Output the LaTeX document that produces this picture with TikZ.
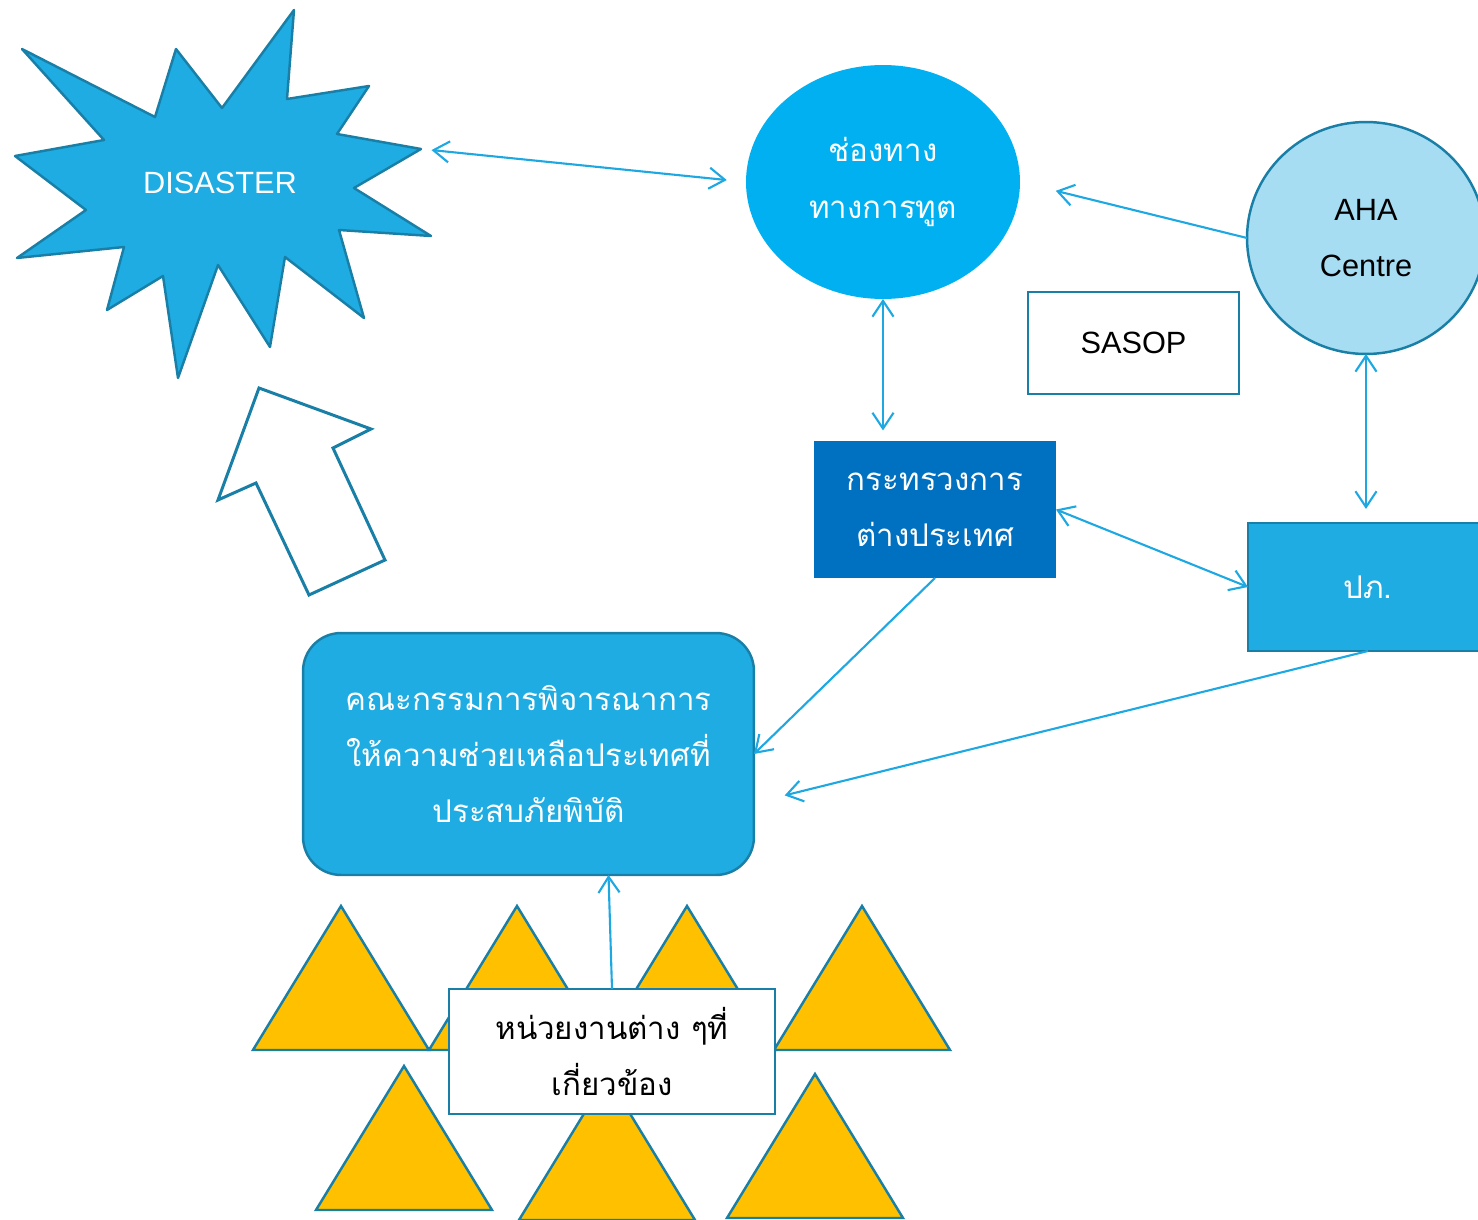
\documentclass[tikz,border=0pt]{standalone}
\usepackage{fontspec}
\setmainfont{Liberation Sans}
\newfontfamily\thaifont[Script=Thai]{Loma}
\usetikzlibrary{shapes.geometric,arrows.meta,calc}

\definecolor{skyfill}{RGB}{30,172,226}
\definecolor{edgeblue}{RGB}{26,127,166}
\definecolor{diplofill}{RGB}{0,176,240}
\definecolor{ahafill}{RGB}{166,221,243}
\definecolor{mfafill}{RGB}{0,112,192}
\definecolor{triyellow}{RGB}{255,192,0}
\definecolor{linkblue}{RGB}{30,168,226}

\tikzset{
  box/.style={draw=edgeblue, line width=1.4pt, inner sep=0pt, outer sep=0pt, align=center},
  thaitext/.style={font=\thaifont\fontsize{17.8}{32}\selectfont},
  latintext/.style={font=\fontsize{17.5}{32}\selectfont},
  link/.style={draw=linkblue, line width=1.2pt},
}

\begin{document}
\begin{tikzpicture}[x=0.02cm, y=-0.02cm, >={Straight Barb[length=9pt,width=12pt]}]
      \useasboundingbox (0,0) rectangle (1478,1220);
      % Draw shapes
      \draw[fill=skyfill, draw=edgeblue, line width=1.4pt, line join=round]
        (22,49) -- (155,117) -- (176,49) -- (222,108) -- (294,10) -- (287,99)
        -- (369,86) -- (337,134) -- (421,149) -- (354,188) -- (431,236)
        -- (339,230) -- (364,318) -- (285,257) -- (270,347) -- (218,265)
        -- (178,378) -- (163,276) -- (107,310) -- (124,247) -- (17,258)
        -- (86,210) -- (15,156) -- (104,140) -- cycle;
      \coordinate (startip) at (421,149);
      \draw[draw=edgeblue, line width=1.7pt, fill=white]
        (259,388) -- (371,429) -- (333,448) -- (385,560) -- (309,595)
        -- (256,483) -- (218,500) -- cycle;
      \foreach \tx/\ty in {341/906, 517/906, 687/906, 862/906, 404/1066, 607/1076, 815/1074}
        \draw[fill=triyellow, draw=edgeblue, line width=1.4pt] (\tx,\ty) -- ++(88,144) -- ++(-176,0) -- cycle;
      % Define nodes
      \node[white, latintext] (disaster) at (220,183) {DISASTER};
      \node[box, ellipse, draw=none, fill=diplofill, minimum width=5.48cm, minimum height=4.68cm,
        text=white, thaitext] (diplo) at (883,182) {ช่องทาง\\ทางการทูต};
      \node[box, ellipse, fill=ahafill, minimum width=4.76cm, minimum height=4.64cm, latintext]
        (aha) at (1366,238) {AHA\\Centre};
      \node[box, fill=white, minimum width=4.22cm, minimum height=2.04cm, latintext]
        (sasop) at (1133.5,343) {SASOP};
      \node[box, draw=none, fill=mfafill, minimum width=4.84cm, minimum height=2.74cm,
        text=white, thaitext] (mfa) at (935,509.5) {กระทรวงการ\\ต่างประเทศ};
      \node[box, fill=skyfill, minimum width=4.8cm, minimum height=2.56cm, text=white, thaitext]
        (ppb) at (1368,587) {ปภ.};
      \node[box, fill=skyfill, rounded corners=0.76cm, minimum width=9.02cm, minimum height=4.84cm,
        text=white, thaitext] (committee) at (528.5,754)
        {คณะกรรมการพิจารณาการ\\ให้ความช่วยเหลือประเทศที่\\ประสบภัยพิบัติ};
      \node[box, fill=white, minimum width=6.52cm, minimum height=2.5cm, thaitext]
        (agencies) at (612,1051.5) {หน่วยงานต่าง ๆที่\\เกี่ยวข้อง};
      % Connect nodes
      \draw[link, <->, shorten <=6pt, shorten >=11pt] (startip) -- (diplo.west);
      \draw[link, <->, shorten >=6pt] (diplo.south) -- (diplo.south |- mfa.north);
      \draw[link, ->, shorten >=21pt] (aha.west) -- (diplo.east);
      \draw[link, <->, shorten >=8pt] (aha.south) -- (aha.south |- ppb.north);
      \draw[link, <->] (mfa.east) -- (ppb.west);
      \draw[link, ->] (mfa.south) -- (committee.east);
      \draw[link, ->, shorten >=18pt] (ppb.south) -- ($(committee.east)+(0,49)$);
      \draw[link, ->] (agencies.north) -- ($(committee.south)+(80,0)$);
    \end{tikzpicture}
\end{document}
